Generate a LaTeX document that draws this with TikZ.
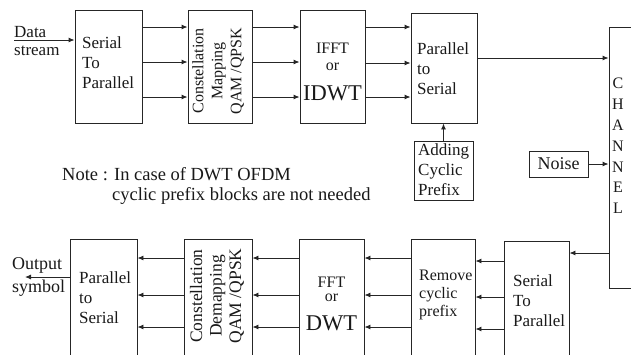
\documentclass[tikz,border=0pt]{standalone}
\usepackage{fontspec}
\setmainfont{Liberation Serif}
\usetikzlibrary{arrows.meta}
\begin{document}
\begin{tikzpicture}[x=1pt,y=-1pt,
  blk/.style={draw=black!85,line width=0.9pt,inner sep=0pt},
  arr/.style={draw=black!85,line width=0.9pt,-{Latex[length=6pt,width=5pt]}},
  txt/.style={inner sep=0pt,text=black!90,font=\fontsize{17}{20}\selectfont,align=left},
  big/.style={inner sep=0pt,text=black!90,font=\fontsize{22.5}{24}\selectfont},
  small/.style={inner sep=0pt,text=black!90,font=\fontsize{16}{18}\selectfont},
]
\useasboundingbox (0,0) rectangle (631,354);
\clip (0,0) rectangle (631,354);
% top row boxes
\node[blk,minimum width=67pt,minimum height=113pt] (stp) at (108.5,66.5) {};
\node[blk,minimum width=64pt,minimum height=113pt] (map) at (220,66.5) {};
\node[blk,minimum width=65pt,minimum height=113pt] (ifft) at (332.5,66.5) {};
\node[blk,minimum width=66pt,minimum height=110pt] (pts) at (444,68) {};
\node[blk,minimum width=59pt,minimum height=59pt] (acp) at (443.5,170.5) {};
\node[blk,minimum width=59pt,minimum height=26pt,font=\fontsize{18}{20}\selectfont,text=black!90] (noise) at (558.5,164) {Noise};
\node[blk,minimum width=51pt,minimum height=261pt] (chan) at (634.5,157.5) {};
% bottom row boxes
\node[blk,minimum width=65pt,minimum height=124pt] (stpR) at (536.5,303) {};
\node[blk,minimum width=64pt,minimum height=126pt] (rcp) at (443,302) {};
\node[blk,minimum width=65pt,minimum height=126pt] (fft) at (331.5,302) {};
\node[blk,minimum width=68pt,minimum height=126pt] (demap) at (218,302) {};
\node[blk,minimum width=67pt,minimum height=126pt] (ptsR) at (103.5,302) {};
% texts
\node[txt,anchor=west,font=\fontsize{17}{18}\selectfont] (dlab) at (14,41) {Data\\stream};
\node[txt,anchor=west] (stpT) at (82,63) {Serial\\To\\Parallel};
\node[txt,rotate=90,align=center,font=\fontsize{16}{19}\selectfont] (mapT) at (218,71) {Constellation\\Mapping\\QAM /QPSK};
\node[small] (ifftA) at (332.5,48) {IFFT};
\node[small] (ifftB) at (332.5,67) {or};
\node[big] (ifftC) at (332.5,93) {IDWT};
\node[txt,anchor=west] (ptsT) at (417,69) {Parallel\\to\\Serial};
\node[txt,anchor=west] (acpT) at (418,170) {Adding\\Cyclic\\Prefix};
\node[txt,align=center,font=\fontsize{16}{20.8}\selectfont] (chanT) at (618,146) {C\\H\\A\\N\\N\\E\\L};
\node[txt,anchor=base west,font=\fontsize{18.5}{20}\selectfont] (note1) at (62,180) {Note : In case of DWT OFDM};
\node[txt,anchor=base west,font=\fontsize{18.5}{20}\selectfont] (note2) at (112,200) {cyclic prefix blocks are not needed};
\node[txt,anchor=west] (stpRT) at (513,301) {Serial\\To\\Parallel};
\node[txt,anchor=west,font=\fontsize{16}{18}\selectfont] (rcpT) at (419,295) {Remove\\cyclic\\prefix};
\node[small] (fftA) at (331.5,282) {FFT};
\node[small] (fftB) at (331.5,298) {or};
\node[big] (fftC) at (331.5,323) {DWT};
\node[txt,rotate=90,align=center,font=\fontsize{17.5}{19.5}\selectfont] (demapT) at (217,296) {Constellation\\Demapping\\QAM /QPSK};
\node[txt,anchor=west] (ptsRT) at (79,298) {Parallel\\to\\Serial};
\node[txt,anchor=west,font=\fontsize{18}{23}\selectfont] (outT) at (12,277) {Output\\symbol};
% connectors
\coordinate (din) at (14,40);
\draw[arr] (din) -- (stp.west |- din);
\foreach \y in {27,62,97} {
  \draw[arr] (stp.east |- 0,\y) -- (map.west |- 0,\y);
  \draw[arr] (map.east |- 0,\y) -- (ifft.west |- 0,\y);
}
\foreach \y in {27,63,97} {
  \draw[arr] (ifft.east |- 0,\y) -- (pts.west |- 0,\y);
}
\draw[arr] (pts.east |- 0,58) -- (chan.west |- 0,58);
\draw[arr] (acp.north) -- (acp.north |- pts.south);
\draw[arr] (noise.east) -- (chan.west |- noise.east);
\draw[arr] (chan.west |- 0,253) -- (stpR.east |- 0,253);
\foreach \y in {261,297,329} {
  \draw[arr] (stpR.west |- 0,\y) -- (rcp.east |- 0,\y);
}
\foreach \y in {258,295,327} {
  \draw[arr] (rcp.west |- 0,\y) -- (fft.east |- 0,\y);
  \draw[arr] (fft.west |- 0,\y) -- (demap.east |- 0,\y);
  \draw[arr] (demap.west |- 0,\y) -- (ptsR.east |- 0,\y);
}
\coordinate (dout) at (25,277);
\draw[arr] (ptsR.west |- dout) -- (dout);
\end{tikzpicture}
\end{document}
